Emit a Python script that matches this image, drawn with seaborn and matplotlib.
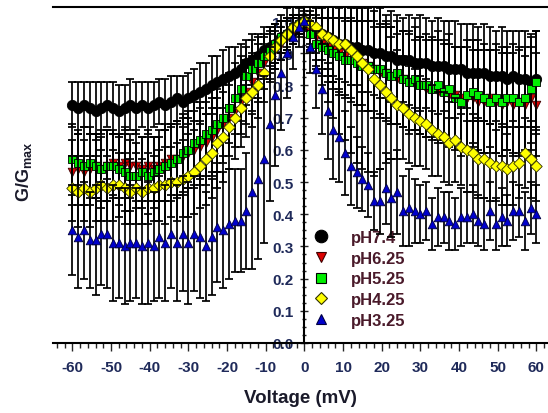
import numpy as np
import pandas as pd
import matplotlib.pyplot as plt
import seaborn as sns
from matplotlib.lines import Line2D
from matplotlib.ticker import MultipleLocator, FormatStrFormatter

# Voltage steps (mV)
voltage = np.arange(-60, 60.01, 1.5)

# G/Gmax per pH
ph74 = [0.74, 0.73, 0.74, 0.73, 0.72, 0.73, 0.74, 0.73, 0.72, 0.73, 0.74,
        0.73, 0.74, 0.73, 0.74, 0.75, 0.74, 0.75, 0.76, 0.75, 0.76,
        0.77, 0.78, 0.79, 0.80, 0.81, 0.82, 0.83, 0.84, 0.85, 0.87,
        0.88, 0.89, 0.91, 0.92, 0.93, 0.95, 0.96, 0.97, 0.99, 1.00,
        0.98, 0.97, 0.96, 0.95, 0.94, 0.93, 0.93, 0.92, 0.92, 0.91,
        0.91, 0.90, 0.90, 0.89, 0.89, 0.88, 0.88, 0.88, 0.87, 0.87,
        0.87, 0.86, 0.86, 0.86, 0.85, 0.85, 0.85, 0.84, 0.84, 0.84,
        0.84, 0.83, 0.83, 0.83, 0.82, 0.83, 0.82, 0.82, 0.81, 0.82]
ph625 = [0.53, 0.54, 0.53, 0.54, 0.55, 0.54, 0.55, 0.56, 0.55, 0.56, 0.55,
         0.55, 0.54, 0.55, 0.54, 0.55, 0.56, 0.57, 0.57, 0.58, 0.59,
         0.60, 0.61, 0.62, 0.64, 0.66, 0.68, 0.70, 0.72, 0.75, 0.78,
         0.81, 0.84, 0.87, 0.89, 0.91, 0.93, 0.95, 0.97, 0.98, 1.00,
         0.97, 0.95, 0.93, 0.92, 0.91, 0.90, 0.89, 0.88, 0.87, 0.87,
         0.86, 0.85, 0.84, 0.84, 0.83, 0.82, 0.82, 0.81, 0.80, 0.80,
         0.79, 0.79, 0.78, 0.78, 0.77, 0.77, 0.76, 0.76, 0.76, 0.75,
         0.75, 0.76, 0.75, 0.74, 0.75, 0.74, 0.75, 0.74, 0.76, 0.74]
ph525 = [0.57, 0.56, 0.55, 0.56, 0.55, 0.54, 0.55, 0.55, 0.54, 0.53, 0.52,
         0.52, 0.53, 0.52, 0.53, 0.54, 0.55, 0.56, 0.57, 0.59, 0.60,
         0.62, 0.63, 0.65, 0.66, 0.68, 0.70, 0.73, 0.76, 0.79, 0.83,
         0.85, 0.87, 0.89, 0.91, 0.93, 0.95, 0.96, 0.98, 0.99, 1.00,
         0.96, 0.93, 0.92, 0.91, 0.90, 0.89, 0.88, 0.88, 0.87, 0.86,
         0.86, 0.85, 0.85, 0.84, 0.83, 0.84, 0.82, 0.81, 0.82, 0.80,
         0.80, 0.79, 0.80, 0.78, 0.79, 0.76, 0.75, 0.77, 0.78, 0.77,
         0.76, 0.75, 0.76, 0.75, 0.76, 0.76, 0.75, 0.76, 0.79, 0.81]
ph425 = [0.48, 0.47, 0.48, 0.47, 0.48, 0.49, 0.48, 0.49, 0.49, 0.48, 0.47,
         0.48, 0.47, 0.48, 0.48, 0.49, 0.49, 0.50, 0.50, 0.51, 0.52,
         0.53, 0.55, 0.57, 0.59, 0.62, 0.64, 0.67, 0.70, 0.73, 0.76,
         0.78, 0.80, 0.84, 0.89, 0.92, 0.94, 0.96, 0.98, 0.99, 1.00,
         0.99, 0.98, 0.96, 0.95, 0.94, 0.93, 0.93, 0.91, 0.89, 0.87,
         0.85, 0.82, 0.80, 0.78, 0.76, 0.74, 0.73, 0.71, 0.70, 0.69,
         0.68, 0.66, 0.65, 0.64, 0.62, 0.63, 0.61, 0.60, 0.59, 0.57,
         0.57, 0.56, 0.55, 0.55, 0.54, 0.55, 0.56, 0.59, 0.57, 0.55]
ph325 = [0.35, 0.33, 0.35, 0.32, 0.32, 0.34, 0.34, 0.31, 0.31, 0.30, 0.31,
         0.31, 0.30, 0.31, 0.30, 0.33, 0.31, 0.34, 0.31, 0.34, 0.31,
         0.34, 0.33, 0.30, 0.33, 0.36, 0.35, 0.37, 0.38, 0.38, 0.41,
         0.47, 0.51, 0.57, 0.68, 0.77, 0.84, 0.90, 0.95, 0.98, 1.00,
         0.92, 0.85, 0.79, 0.72, 0.66, 0.64, 0.59, 0.55, 0.53, 0.51,
         0.49, 0.44, 0.44, 0.48, 0.45, 0.47, 0.41, 0.42, 0.41, 0.40,
         0.41, 0.37, 0.39, 0.39, 0.38, 0.37, 0.39, 0.39, 0.40, 0.38,
         0.37, 0.41, 0.37, 0.39, 0.38, 0.41, 0.41, 0.38, 0.42, 0.40]

# error bars
err74 = [0.07, 0.08, 0.07, 0.08, 0.09, 0.08, 0.07, 0.08, 0.08, 0.07, 0.08,
         0.08, 0.07, 0.08, 0.07, 0.07, 0.08, 0.08, 0.07, 0.08, 0.08,
         0.08, 0.09, 0.08, 0.09, 0.08, 0.09, 0.09, 0.08, 0.08, 0.07,
         0.08, 0.07, 0.07, 0.06, 0.06, 0.05, 0.05, 0.04, 0.03, 0.02,
         0.05, 0.07, 0.08, 0.10, 0.11, 0.11, 0.12, 0.12, 0.12, 0.13,
         0.13, 0.13, 0.14, 0.13, 0.14, 0.14, 0.13, 0.14, 0.14, 0.15,
         0.14, 0.14, 0.15, 0.14, 0.15, 0.15, 0.14, 0.15, 0.15, 0.14,
         0.15, 0.15, 0.14, 0.15, 0.15, 0.14, 0.15, 0.15, 0.14, 0.15]
err625 = [0.10, 0.11, 0.10, 0.11, 0.10, 0.10, 0.11, 0.10, 0.10, 0.11, 0.10,
          0.11, 0.10, 0.11, 0.10, 0.11, 0.12, 0.11, 0.12, 0.12, 0.11,
          0.12, 0.12, 0.13, 0.12, 0.13, 0.12, 0.12, 0.11, 0.10, 0.10,
          0.09, 0.09, 0.08, 0.07, 0.06, 0.05, 0.05, 0.04, 0.03, 0.02,
          0.05, 0.07, 0.08, 0.09, 0.10, 0.11, 0.12, 0.12, 0.13, 0.13,
          0.14, 0.13, 0.14, 0.14, 0.15, 0.14, 0.15, 0.15, 0.14, 0.15,
          0.15, 0.15, 0.16, 0.15, 0.16, 0.15, 0.16, 0.16, 0.15, 0.16,
          0.16, 0.15, 0.16, 0.16, 0.15, 0.16, 0.16, 0.15, 0.16, 0.16]
err525 = [0.11, 0.10, 0.12, 0.11, 0.10, 0.12, 0.11, 0.10, 0.11, 0.12, 0.11,
          0.10, 0.11, 0.12, 0.11, 0.10, 0.11, 0.12, 0.11, 0.12, 0.12,
          0.13, 0.12, 0.13, 0.13, 0.12, 0.12, 0.11, 0.11, 0.10, 0.09,
          0.09, 0.08, 0.07, 0.07, 0.06, 0.05, 0.04, 0.04, 0.03, 0.02,
          0.06, 0.08, 0.09, 0.10, 0.11, 0.12, 0.12, 0.13, 0.13, 0.14,
          0.14, 0.15, 0.14, 0.15, 0.15, 0.16, 0.15, 0.16, 0.16, 0.15,
          0.16, 0.16, 0.17, 0.16, 0.17, 0.16, 0.17, 0.17, 0.16, 0.17,
          0.17, 0.16, 0.17, 0.17, 0.16, 0.17, 0.17, 0.16, 0.17, 0.16]
err425 = [0.10, 0.11, 0.10, 0.11, 0.10, 0.11, 0.10, 0.11, 0.10, 0.11, 0.10,
          0.11, 0.10, 0.11, 0.10, 0.11, 0.12, 0.11, 0.12, 0.12, 0.13,
          0.13, 0.13, 0.14, 0.14, 0.14, 0.14, 0.13, 0.13, 0.12, 0.12,
          0.11, 0.10, 0.09, 0.08, 0.07, 0.06, 0.05, 0.04, 0.03, 0.02,
          0.08, 0.12, 0.16, 0.20, 0.24, 0.28, 0.30, 0.32, 0.33, 0.33,
          0.32, 0.30, 0.26, 0.22, 0.19, 0.17, 0.16, 0.15, 0.15, 0.14,
          0.14, 0.14, 0.13, 0.14, 0.13, 0.13, 0.12, 0.13, 0.12, 0.12,
          0.12, 0.12, 0.11, 0.12, 0.11, 0.12, 0.11, 0.11, 0.12, 0.11]
err325 = [0.14, 0.16, 0.15, 0.15, 0.17, 0.16, 0.17, 0.18, 0.17, 0.18, 0.18,
          0.17, 0.18, 0.19, 0.17, 0.19, 0.18, 0.17, 0.18, 0.18, 0.19,
          0.18, 0.19, 0.17, 0.18, 0.17, 0.18, 0.17, 0.16, 0.16, 0.18,
          0.24, 0.25, 0.26, 0.24, 0.22, 0.18, 0.14, 0.10, 0.06, 0.03,
          0.08, 0.12, 0.14, 0.15, 0.15, 0.14, 0.13, 0.12, 0.11, 0.10,
          0.10, 0.09, 0.10, 0.11, 0.12, 0.13, 0.11, 0.12, 0.10, 0.09,
          0.09, 0.08, 0.09, 0.08, 0.09, 0.08, 0.09, 0.08, 0.09, 0.08,
          0.08, 0.09, 0.08, 0.09, 0.08, 0.09, 0.08, 0.09, 0.08, 0.09]

labels = ['pH7.4', 'pH6.25', 'pH5.25', 'pH4.25', 'pH3.25']
values = [ph74, ph625, ph525, ph425, ph325]
errors = [err74, err625, err525, err425, err325]

# styling
markers = ['o', 'v', 's', 'D', '^']
colors = ['#000000', '#dd0000', '#00ee00', '#ffff00', '#0000cc']
edges = ['#000000', '#400000', '#000000', '#303000', '#000040']
sizes = [55, 38, 34, 34, 38]

sns.set_theme(style='ticks')
plt.rcParams['font.family'] = ['Liberation Sans', 'DejaVu Sans']
plt.rcParams['font.weight'] = 'bold'
plt.rcParams['axes.unicode_minus'] = False
plt.rcParams['mathtext.fontset'] = 'custom'
plt.rcParams['mathtext.rm'] = 'Liberation Sans'
plt.rcParams['mathtext.bf'] = 'Liberation Sans:bold'

fig = plt.figure(figsize=(5.48, 4.14), dpi=100)
ax = fig.add_axes([53 / 548, 70 / 414, 495 / 548, 336 / 414])

for k, (lab, val, err) in enumerate(zip(labels, values, errors)):
    df = pd.DataFrame({'Voltage': voltage, 'G': val, 'err': err})
    ax.errorbar(df['Voltage'], df['G'], yerr=df['err'], fmt='none',
                ecolor='black', elinewidth=1.25, capsize=3.2, capthick=1.25,
                zorder=3 + 2 * k)
    sns.scatterplot(data=df, x='Voltage', y='G', ax=ax, marker=markers[k],
                    color=colors[k], edgecolor=edges[k], linewidth=0.6,
                    s=sizes[k], zorder=4 + 2 * k, legend=False)

ax.set_xlim(-65, 63)
ax.set_ylim(0, 1.0435)

# axes frame: top and bottom lines, y axis through 0 mV
ax.spines['right'].set_visible(False)
ax.spines['left'].set_position(('data', 0))
for s in ['top', 'bottom', 'left']:
    ax.spines[s].set_linewidth(1.5)
    ax.spines[s].set_color('black')

tick_col = '#1f2a5a'
ax.xaxis.set_major_locator(MultipleLocator(10))
ax.xaxis.set_minor_locator(MultipleLocator(2))
ax.yaxis.set_major_locator(MultipleLocator(0.1))
ax.yaxis.set_minor_locator(MultipleLocator(0.025))
ax.yaxis.set_major_formatter(FormatStrFormatter('%.1f'))
ax.tick_params(axis='x', which='major', direction='out', length=6, width=1.0,
               pad=6, labelsize=11, labelcolor=tick_col)
ax.tick_params(axis='x', which='minor', direction='out', length=3.5, width=1.0)
ax.tick_params(axis='y', which='major', direction='inout', length=6, width=1.0,
               pad=5, labelsize=11, labelcolor=tick_col)
ax.tick_params(axis='y', which='minor', direction='inout', length=3.5, width=1.0)
ax.tick_params(top=False, which='both')

ax.set_xlabel('Voltage (mV)', fontsize=13.5, fontweight='bold', color='#1a1a2a',
              labelpad=11)
ax.set_ylabel('')
fig.text(24 / 548, 1 - 172 / 414, r'$\mathbf{G/G}_{\mathbf{max}}$', rotation=90,
         fontsize=13, color='#1a1a2a', ha='center', va='center')

handles = [Line2D([], [], linestyle='none', marker=markers[k], color=colors[k],
                  markeredgecolor=edges[k] if k else 'black',
                  markeredgewidth=0.8,
                  markersize=[9, 6.5, 6.5, 6.5, 7][k])
           for k in range(5)]
leg = ax.legend(handles, labels, frameon=False, loc='upper left',
                bbox_to_anchor=(313 / 548, 1 - 231 / 414),
                bbox_transform=fig.transFigure, borderpad=0, borderaxespad=0,
                handlelength=1.0, handletextpad=1.3, labelspacing=0.34,
                prop={'size': 12, 'weight': 'bold'})
for t in leg.get_texts():
    t.set_color('#4a1a2a')

fig.savefig('out.png', dpi=100)
